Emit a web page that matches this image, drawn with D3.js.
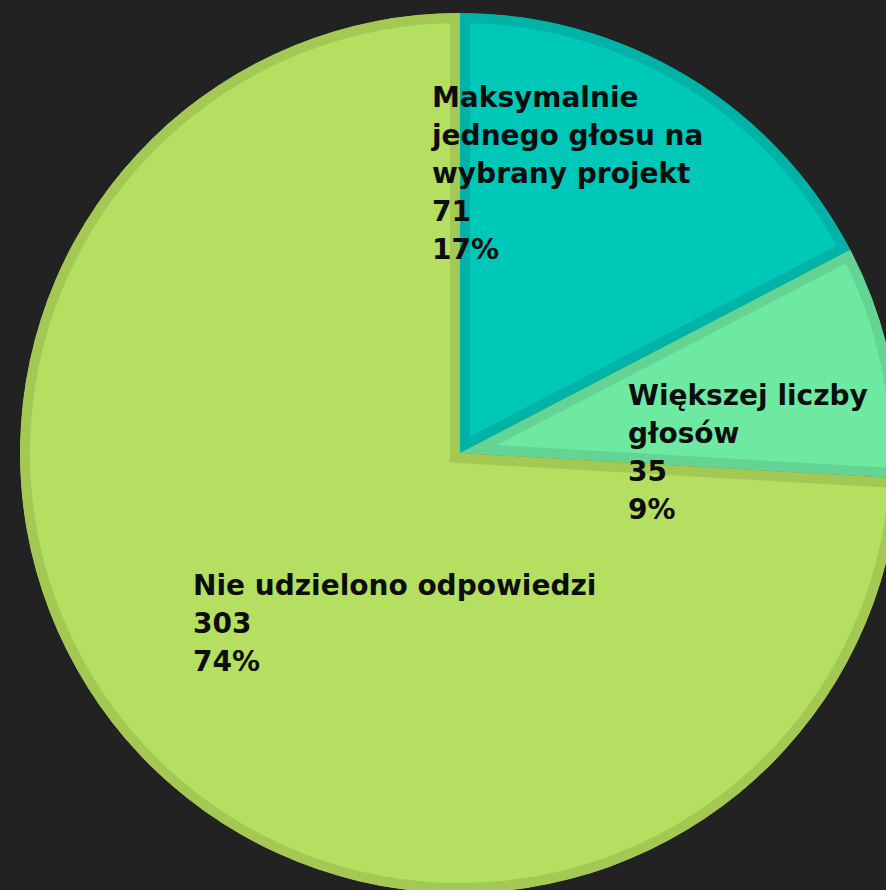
<!DOCTYPE html>
<html>
<head>
<meta charset="utf-8">
<script src="https://cdn.jsdelivr.net/npm/d3@7"></script>
<style>
  html, body { margin: 0; padding: 0; background: #222222; }
  svg { display: block; }
  .label { font-family: "DejaVu Sans", sans-serif; font-weight: bold; fill: #0d0d0d; }
</style>
</head>
<body>
<div id="pie"></div>
<script>

const FRAME_WIDTH = 886;
const FRAME_HEIGHT = 890;
const CENTER = {x: 460, y: 453};
const RADIUS = 440;

// data
const categories = ["Maksymalnie jednego głosu na wybrany projekt", "Większej liczby głosów", "Nie udzielono odpowiedzi"];
const labelLines = [["Maksymalnie", "jednego głosu na", "wybrany projekt"], ["Większej liczby", "głosów"], ["Nie udzielono odpowiedzi"]];
const values = [71, 35, 303];
const fills = ["#00c8b9", "#6ee9a1", "#b5df61"];
const borders = ["#00b3a6", "#63d493", "#a3c853"];

// label block positions relative to centre (layout only)
const LABEL_POS = [{x: -28, y: -346}, {x: 168, y: -48}, {x: -267, y: 142}];
const LINE_H = 38;

const total = d3.sum(values);
const data = values.map((v, i) => ({name: categories[i], value: v, lines: labelLines[i], fill: fills[i], border: borders[i], i: i}));

const FRAME = d3.select("#pie")
                .append("svg")
                  .attr("width", FRAME_WIDTH)
                  .attr("height", FRAME_HEIGHT);

const pie = d3.pie().value(d => d.value).sort(null);
const arc = d3.arc().innerRadius(0).outerRadius(RADIUS);
const arcs = pie(data);

const defs = FRAME.append("defs");
defs.selectAll("clipPath")
    .data(arcs)
    .enter()
    .append("clipPath")
      .attr("id", d => "clip" + d.data.i)
    .append("path")
      .attr("d", arc);

const G = FRAME.append("g")
               .attr("transform", "translate(" + CENTER.x + "," + CENTER.y + ")");

// slices, border drawn on the inside via clip
G.selectAll(".slice")
  .data(arcs)
  .enter()
  .append("path")
    .attr("class", "slice")
    .attr("d", arc)
    .attr("fill", d => d.data.fill)
    .attr("stroke", d => d.data.border)
    .attr("stroke-width", 20)
    .attr("stroke-linejoin", "miter")
    .attr("clip-path", d => "url(#clip" + d.data.i + ")");

// labels
const labels = G.selectAll(".label")
  .data(arcs)
  .enter()
  .append("text")
    .attr("class", "label")
    .attr("font-size", "28px")
    .attr("transform", d => "translate(" + LABEL_POS[d.data.i].x + "," + LABEL_POS[d.data.i].y + ")");

labels.each(function(d) {
  const t = d3.select(this);
  const rows = d.data.lines.concat([String(d.data.value), Math.round(d.data.value / total * 100) + "%"]);
  rows.forEach((r, k) => {
    t.append("tspan")
      .attr("x", 0)
      .attr("y", k * LINE_H)
      .text(r);
  });
});

</script>
</body>
</html>
